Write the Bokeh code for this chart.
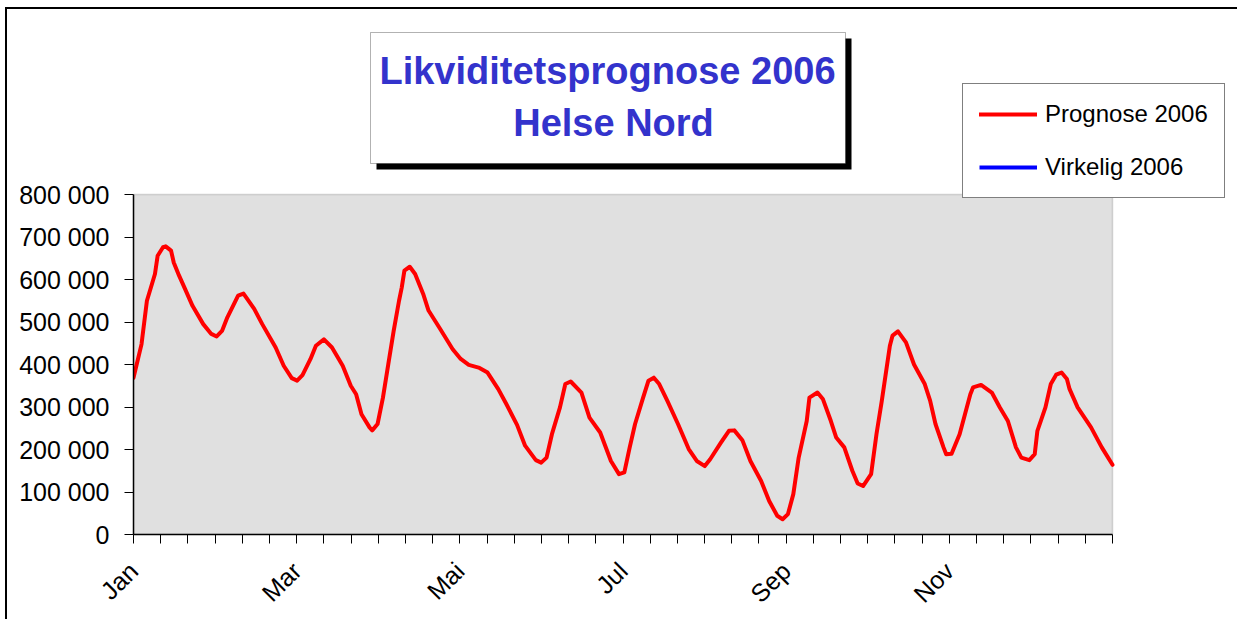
import math
from bokeh.plotting import figure
from bokeh.models import (FixedTicker, CustomJSTickFormatter, Legend, LegendItem,
                          BoxAnnotation, Label, Range1d)
from bokeh.embed import file_html
from bokeh.resources import INLINE

# ---------------- data ----------------
title_lines = ["Likviditetsprognose 2006", "Helse Nord"]
series_names = ["Prognose 2006", "Virkelig 2006"]
month_labels = ["Jan", "Mar", "Mai", "Jul", "Sep", "Nov"]
y_ticks = [0, 100000, 200000, 300000, 400000, 500000, 600000, 700000, 800000]
y_tick_labels = ["0", "100 000", "200 000", "300 000", "400 000",
                 "500 000", "600 000", "700 000", "800 000"]

# day of year (0..365) and forecast liquidity
prognose_day = [0, 3, 5, 8, 9, 11, 12, 14, 15, 17, 19, 22, 26, 29, 31, 33, 35, 39, 41, 42,
                45, 48, 53, 56, 59, 61, 63, 66, 68, 71, 74, 78, 81, 83, 85, 88, 89, 91, 93, 95,
                97, 99, 100, 101, 103, 105, 108, 110, 114, 119, 122, 125, 129, 132, 136, 139, 143, 146, 150, 152,
                154, 156, 159, 161, 163, 167, 170, 174, 178, 181, 183, 185, 187, 190, 192, 194, 196, 199, 203, 207,
                210, 213, 215, 219, 222, 224, 227, 230, 234, 237, 240, 242, 244, 246, 248, 251, 252, 255, 257, 260,
                262, 265, 268, 270, 272, 275, 277, 279, 282, 283, 285, 288, 291, 295, 297, 299, 302, 303, 305, 308,
                310, 312, 313, 316, 320, 323, 326, 329, 331, 334, 336, 337, 340, 342, 344, 346, 348, 349, 352, 357,
                361, 365]
prognose_value = [369000, 448000, 550000, 613000, 656000, 676000, 678000, 668000, 640000, 609000,
                  581000, 538000, 495000, 472000, 466000, 479000, 511000, 562000, 567000, 558000,
                  531000, 495000, 440000, 397000, 368000, 362000, 375000, 413000, 444000, 459000,
                  440000, 397000, 350000, 330000, 283000, 252000, 245000, 260000, 322000, 401000,
                  479000, 550000, 581000, 621000, 630000, 613000, 566000, 527000, 487000, 436000,
                  413000, 399000, 392000, 381000, 342000, 307000, 258000, 209000, 175000, 169000,
                  181000, 236000, 299000, 354000, 360000, 334000, 275000, 240000, 173000, 142000,
                  146000, 205000, 260000, 322000, 362000, 369000, 354000, 315000, 260000, 201000,
                  173000, 161000, 177000, 216000, 244000, 245000, 222000, 173000, 126000, 79000,
                  44000, 36000, 48000, 95000, 181000, 267000, 322000, 334000, 319000, 267000,
                  228000, 205000, 150000, 120000, 114000, 142000, 236000, 315000, 444000, 468000,
                  478000, 452000, 400000, 354000, 315000, 260000, 205000, 189000, 190000, 236000,
                  283000, 330000, 346000, 352000, 334000, 299000, 267000, 205000, 181000, 175000,
                  189000, 244000, 299000, 354000, 376000, 381000, 366000, 342000, 299000, 252000,
                  205000, 164000]
# actual 2006 figures: not yet available (series is empty in the chart)
virkelig_day = [0]
virkelig_value = [float("nan")]

X_MAX = 365
Y_MAX = 800000

# ---------------- layout geometry (page pixels) ----------------
FONT = "Liberation Sans"
FIG_W, FIG_H = 1230, 606
BORDER_L = 126                 # figure x of plot-area left edge
FRAME_W = FIG_W - BORDER_L
FRAME_H = 525                  # frame spans figure top .. x-axis
PLOT_W_PX, PLOT_H_PX = 979, 340
PAGE_X0, PAGE_Y0 = 133, 534    # page position of the data origin


def X(px):
    return (px - PAGE_X0) * X_MAX / PLOT_W_PX


def Y(py):
    return (PAGE_Y0 - py) * Y_MAX / PLOT_H_PX


p = figure(frame_width=FRAME_W, frame_height=FRAME_H,
           min_border_left=BORDER_L, min_border_right=0,
           min_border_top=0, min_border_bottom=FIG_H - FRAME_H,
           x_range=Range1d(0, FRAME_W * X_MAX / PLOT_W_PX),
           y_range=Range1d(0, FRAME_H * Y_MAX / PLOT_H_PX),
           title=None, output_backend="svg", toolbar_location=None,
           styles={"margin-left": "5px", "margin-top": "7px",
                   "border-left": "2px solid black", "border-top": "2px solid black"})

p.background_fill_color = "white"
p.border_fill_color = "white"
p.outline_line_color = None
p.xgrid.visible = False
p.ygrid.visible = False

# plot area
p.add_layout(BoxAnnotation(left=0, right=X_MAX, bottom=0, top=Y_MAX, level="underlay",
                           fill_color="#E0E0E0", fill_alpha=1,
                           line_color="#808080", line_width=1.5))

r1 = p.line(prognose_day, prognose_value, line_color="#FF0000", line_width=4,
            line_join="round", line_cap="round")
r2 = p.line(virkelig_day, virkelig_value, line_color="#0000FF", line_width=4)

# axes
for ax in (p.xaxis[0], p.yaxis[0]):
    ax.axis_line_color = "black"
    ax.axis_line_width = 1.5
    ax.major_tick_line_color = "black"
    ax.major_tick_line_width = 1
    ax.major_tick_in = 0
    ax.major_tick_out = 9
    ax.minor_tick_line_color = None
    ax.major_label_text_font = FONT
    ax.major_label_text_color = "black"

p.yaxis.bounds = (0, Y_MAX)
p.yaxis.ticker = FixedTicker(ticks=y_ticks)
p.yaxis.major_label_overrides = dict(zip(y_ticks, y_tick_labels))
p.yaxis.major_label_text_font_size = "25px"
p.yaxis.major_label_standoff = 15

n_intervals = 36
p.xaxis.bounds = (0, X_MAX)
p.xaxis.ticker = FixedTicker(ticks=[i * X_MAX / n_intervals for i in range(n_intervals + 1)])
p.xaxis.formatter = CustomJSTickFormatter(
    args=dict(names=month_labels),
    code="const k = Math.round(tick*36/365); return (k % 6 === 0 && k < 36) ? names[k/6] : '';")
p.xaxis.major_label_orientation = math.pi / 4
p.xaxis.major_label_text_font_size = "25px"
p.xaxis.major_label_standoff = 23

# title box with shadow
p.add_layout(BoxAnnotation(left=X(376), right=X(851), bottom=Y(169), top=Y(38),
                           fill_color="black", fill_alpha=1, line_color=None))
p.add_layout(BoxAnnotation(left=X(370), right=X(845), bottom=Y(163), top=Y(32),
                           fill_color="white", fill_alpha=1, line_color="black", line_width=1))
p.add_layout(Label(x=X(607), y=Y(70), text=title_lines[0],
                   text_font=FONT, text_font_style="bold", text_font_size="38px",
                   text_color="#3333CC", text_align="center", text_baseline="alphabetic"))
p.add_layout(Label(x=X(613), y=Y(122), text=title_lines[1],
                   text_font=FONT, text_font_style="bold", text_font_size="38px",
                   text_color="#3333CC", text_align="center", text_baseline="alphabetic"))

# legend (location = bottom-left corner, px from frame bottom-left)
legend = Legend(items=[LegendItem(label=series_names[0], renderers=[r1]),
                       LegendItem(label=series_names[1], renderers=[r2])],
                location=(962 - PAGE_X0, PAGE_Y0 - 198), orientation="vertical",
                glyph_width=58, glyph_height=24, label_height=24, label_standoff=8,
                padding=16, spacing=25, margin=0,
                label_text_font=FONT, label_text_font_size="24px", label_text_color="black",
                border_line_color="black", border_line_width=1,
                background_fill_color="white", background_fill_alpha=1)
p.add_layout(legend, "center")

open("out.html", "w").write(file_html(p, INLINE))
